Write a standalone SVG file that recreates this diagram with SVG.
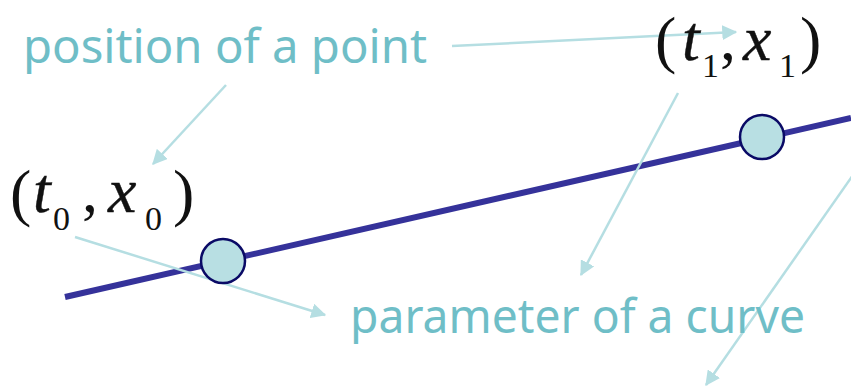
<svg xmlns="http://www.w3.org/2000/svg" width="851" height="388" viewBox="0 0 851 388">
<defs>
<marker id="ah" markerWidth="6" markerHeight="6" refX="5.5" refY="3" orient="auto" markerUnits="strokeWidth">
<path d="M0,0 L6,3 L0,6 Z" fill="#b5dee2"/>
</marker>
<style>
.lbl{font-family:"Noto Sans","Open Sans",sans-serif;fill:#6fbec7;font-size:47px}
.m{font-family:"Liberation Serif",serif;fill:#111;font-size:64px}
.mi{font-style:italic;stroke:#111;stroke-width:0.4}
.sub{font-family:"Liberation Serif",serif;fill:#111;font-size:34px}
.arr{stroke:#b5dee2;stroke-width:2.5;fill:none;marker-end:url(#ah)}
.pt{fill:#b8dfe3;stroke:#0a0a66;stroke-width:2.5}
</style>
</defs>
<g id="curve">
<line x1="65" y1="297" x2="851" y2="118" stroke="#35329a" stroke-width="6"/>
</g>
<g id="connectors">
<line class="arr" x1="452" y1="46" x2="736" y2="32"/>
<line class="arr" x1="226" y1="85" x2="153" y2="164"/>
<line class="arr" x1="75" y1="237" x2="325" y2="315"/>
<line class="arr" x1="678" y1="93" x2="581" y2="275"/>
<line class="arr" x1="853" y1="175" x2="706" y2="385"/>
</g>
<g id="p0">
<circle class="pt" cx="223" cy="261" r="22"/>
</g>
<g id="p1">
<circle class="pt" cx="762" cy="137" r="22"/>
</g>
<g id="label-position">
<text class="lbl" x="23" y="63" textLength="404" lengthAdjust="spacingAndGlyphs">position of a point</text>
</g>
<g id="label-parameter">
<text class="lbl" x="350" y="333" textLength="455" lengthAdjust="spacingAndGlyphs">parameter of a curve</text>
</g>
<g id="label-t0x0">
<text class="m" x="10" y="214">(</text>
<text class="m mi" x="33" y="212">t</text>
<text class="sub" x="53" y="230">0</text>
<text class="m" x="82" y="212">,</text>
<text class="m mi" x="108" y="212">x</text>
<text class="sub" x="145" y="230">0</text>
<text class="m" x="173" y="214">)</text>
</g>
<g id="label-t1x1">
<text class="m" x="655" y="61">(</text>
<text class="m mi" x="682" y="60">t</text>
<text class="sub" x="702" y="77">1</text>
<text class="m" x="720" y="60">,</text>
<text class="m mi" x="743" y="60">x</text>
<text class="sub" x="779" y="77">1</text>
<text class="m" x="800" y="61">)</text>
</g>
</svg>
